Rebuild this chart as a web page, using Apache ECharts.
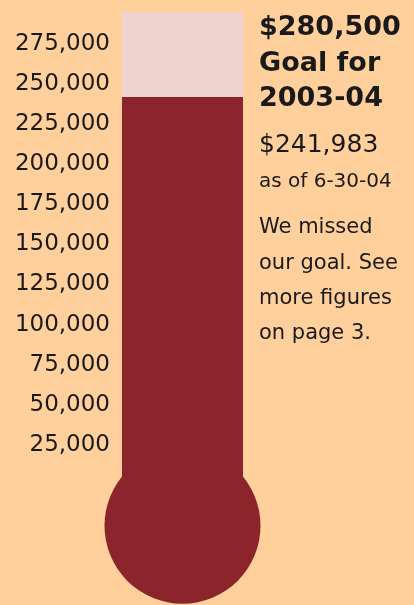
<!DOCTYPE html>
<html>
<head>
<meta charset="utf-8">
<script src="https://cdn.jsdelivr.net/npm/echarts@6/dist/echarts.min.js"></script>
<style>
  html, body { margin: 0; padding: 0; background: #ffcf9c; }
  #chart { width: 414px; height: 605px; }
</style>
</head>
<body>
<div id="chart"></div>
<script>
// 数据
var categories = ["2003-04"];
var raised = [241983];
var goal = 280500;
var bulb = [-25500]; // 温度计底部圆球的位置
var goalLines = ["$280,500", "Goal for", "2003-04"];
var raisedLines = ["$241,983", "as of 6-30-04"];
var noteLines = ["We missed", "our goal. See", "more figures", "on page 3."];

var RED = "#8c242b";
var PINK = "#eed3cf";
var INK = "#1a1a1a";
var FONT = "DejaVu Sans, Verdana, sans-serif";

var myChart = echarts.init(document.getElementById("chart"));

// 右侧文字
var texts = [];
goalLines.forEach(function (t, i) {
  texts.push({ text: t, y: 28 + i * 35.5, font: "bold 27px " + FONT });
});
texts.push({ text: raisedLines[0], y: 145, font: "25px " + FONT });
texts.push({ text: raisedLines[1], y: 182, font: "20px " + FONT });
noteLines.forEach(function (t, i) {
  texts.push({ text: t, y: 228 + i * 35.3, font: "21px " + FONT });
});

var graphic = texts.map(function (t) {
  return {
    type: "text",
    x: 259,
    y: t.y,
    style: { text: t.text, font: t.font, fill: INK, verticalAlign: "middle" }
  };
});

var option = {
  backgroundColor: "#ffcf9c",
  animation: false,
  grid: { left: 122, right: 171, top: 12, bottom: 40 },
  xAxis: {
    type: "category",
    data: categories,
    show: false
  },
  yAxis: {
    type: "value",
    min: -50000,
    max: 295000,
    interval: 25000,
    axisLine: { show: false },
    axisTick: { show: false },
    splitLine: { show: false },
    axisLabel: {
      margin: 12,
      color: INK,
      fontSize: 23,
      fontFamily: FONT,
      formatter: function (v) {
        if (v <= 0 || v > goal) return "";
        return v.toLocaleString("en-US");
      }
    }
  },
  series: [
    {
      type: "bar",
      data: raised,
      barWidth: "100%",
      itemStyle: { color: RED },
      showBackground: true,
      backgroundStyle: { color: PINK }
    },
    {
      type: "scatter",
      data: bulb,
      symbol: "circle",
      symbolSize: 156,
      clip: false,
      z: 3,
      itemStyle: { color: RED, opacity: 1 }
    }
  ],
  graphic: graphic
};

myChart.setOption(option);
</script>
</body>
</html>
